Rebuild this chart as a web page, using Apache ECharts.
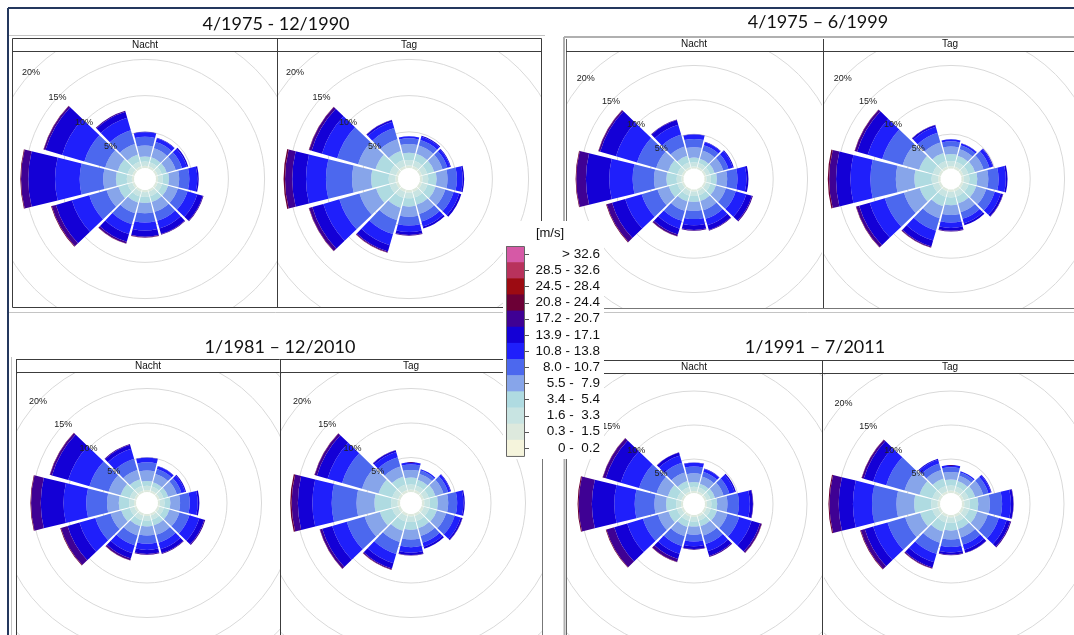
<!DOCTYPE html>
<html><head><meta charset="utf-8">
<script src="https://cdn.jsdelivr.net/npm/echarts@6/dist/echarts.min.js"></script>
<style>
html,body{margin:0;padding:0;background:#fff;}
#wrap{position:relative;width:1074px;height:635px;overflow:hidden;background:#fff;}
.abs{position:absolute;}
</style></head>
<body><div id="wrap"><div id="base" class="abs" style="left:0;top:0;width:1074px;height:635px"></div></div>
<script>
// ---------------- data ----------------
const directions = ['N','NNO','ONO','O','OSO','SSO','S','SSW','WSW','W','WNW','NNW'];
const periodTitles = ['4/1975 - 12/1990','4/1975 \u2013 6/1999','1/1981 \u2013 12/2010','1/1991 \u2013 7/2011'];
const panelHeaders = ['Nacht','Tag'];
const legendUnit = '[m/s]';
const speedLabels = ['> 32.6','28.5 - 32.6','24.5 - 28.4','20.8 - 24.4','17.2 - 20.7','13.9 - 17.1','10.8 - 13.8','8.0 - 10.7','5.5 -  7.9','3.4 -  5.4','1.6 -  3.3','0.3 -  1.5','0 -  0.2'];
const speedColors = ['#d659a6','#b8325c','#9c0b12','#6c0036','#3f0194','#1400d6','#1f1ffb','#4c68ee','#87a5ea','#afdbe1','#c8e4e2','#dde9dd','#f5f4dc'];
const ringValues = [5,10,15,20,25,30,35,40];
// cumulative frequency (%) per direction, classes 0.3-1.5 ... 20.8-24.4 m/s
const nacht_1975_1990 = [
 [0.3,0.9,1.6,3.1,4.3,4.95,5.0,5.0,5.0],
 [0.3,0.9,1.6,2.9,3.8,4.35,4.4,4.4,4.4],
 [0.3,0.9,1.6,2.9,3.8,4.5,4.7,4.7,4.7],
 [0.3,0.95,1.8,3.2,4.6,5.7,5.9,5.9,5.9],
 [0.3,0.95,1.8,3.2,4.6,6.0,6.8,6.9,6.9],
 [0.3,0.95,1.8,3.2,4.5,5.6,6.4,6.5,6.5],
 [0.3,0.95,1.8,3.2,4.5,5.6,6.45,6.55,6.6],
 [0.3,1.0,1.9,3.4,5.0,6.4,7.5,7.75,7.8],
 [0.3,1.0,2.3,4.0,6.5,9.0,11.3,11.9,12.0],
 [0.3,1.0,2.5,4.25,7.5,10.9,14.6,15.6,15.7],
 [0.3,1.0,2.4,4.2,7.2,10.4,12.8,13.05,13.1],
 [0.3,1.0,2.0,3.5,5.5,7.3,8.15,8.3,8.3]
];
const tag_1975_1990 = [
 [0.35,1.1,2.1,3.3,4.1,4.4,4.4,4.4,4.4],
 [0.35,1.1,2.1,3.3,4.1,4.55,4.7,4.7,4.7],
 [0.35,1.1,2.1,3.3,4.0,4.4,4.5,4.5,4.5],
 [0.35,1.15,2.3,3.8,5.1,5.9,6.1,6.1,6.1],
 [0.35,1.15,2.3,3.7,4.9,5.7,6.0,6.0,6.0],
 [0.35,1.15,2.2,3.5,4.6,5.3,5.6,5.6,5.6],
 [0.35,1.15,2.3,3.7,4.9,5.8,6.2,6.3,6.3],
 [0.35,1.2,2.6,4.4,6.4,8.0,8.9,9.05,9.1],
 [0.35,1.25,3.2,5.6,8.5,10.8,12.4,12.85,12.9],
 [0.35,1.3,3.7,6.35,9.95,12.7,14.6,15.6,15.8],
 [0.35,1.25,3.3,5.8,8.8,11.0,12.5,12.85,12.9],
 [0.35,1.2,2.5,4.2,5.8,6.7,6.95,7.0,7.0]
];
const nacht_1975_1999 = [
 [0.3,0.9,1.6,3.1,4.3,4.95,5.0,5.0,5.0],
 [0.3,0.9,1.55,2.8,3.6,4.05,4.1,4.1,4.1],
 [0.3,0.9,1.6,2.9,3.7,4.35,4.5,4.5,4.5],
 [0.3,0.95,1.8,3.3,4.8,6.1,6.4,6.4,6.4],
 [0.3,0.95,1.8,3.3,4.8,6.4,7.25,7.4,7.4],
 [0.3,0.95,1.8,3.2,4.5,5.5,6.2,6.3,6.3],
 [0.3,0.95,1.8,3.1,4.3,5.2,5.9,6.0,6.0],
 [0.3,1.0,1.9,3.3,4.8,6.0,6.9,7.15,7.2],
 [0.3,1.0,2.3,4.0,6.4,8.9,10.9,11.7,11.8],
 [0.3,1.0,2.5,4.3,7.4,10.8,14.2,15.6,15.7],
 [0.3,1.0,2.4,4.2,7.1,10.3,12.7,12.95,13.0],
 [0.3,1.0,2.0,3.4,5.2,6.7,7.4,7.5,7.5]
];
const tag_1975_1999 = [
 [0.35,1.1,2.1,3.2,3.95,4.25,4.25,4.25,4.25],
 [0.35,1.1,2.0,3.0,3.6,3.85,3.9,3.9,3.9],
 [0.35,1.1,2.1,3.4,4.3,4.8,4.9,4.9,4.9],
 [0.35,1.15,2.3,3.9,5.4,6.45,6.7,6.7,6.7],
 [0.35,1.15,2.3,3.8,5.1,6.0,6.35,6.4,6.4],
 [0.35,1.15,2.2,3.5,4.5,5.2,5.5,5.5,5.5],
 [0.35,1.15,2.3,3.7,4.8,5.6,6.0,6.1,6.1],
 [0.35,1.2,2.6,4.4,6.3,7.8,8.7,8.85,8.9],
 [0.35,1.25,3.2,5.6,8.5,10.8,12.4,12.85,12.9],
 [0.35,1.3,3.8,6.5,10.2,13.1,15.2,16.2,16.4],
 [0.35,1.25,3.3,5.8,8.9,11.1,12.7,13.05,13.1],
 [0.35,1.2,2.4,4.0,5.5,6.4,6.65,6.7,6.7]
];
const nacht_1981_2010 = [
 [0.3,0.9,1.6,3.1,4.3,4.95,5.0,5.0,5.0],
 [0.3,0.9,1.55,2.8,3.55,3.95,4.0,4.0,4.0],
 [0.3,0.9,1.6,2.9,3.6,4.15,4.3,4.3,4.3],
 [0.3,0.95,1.8,3.2,4.6,5.75,6.0,6.0,6.0],
 [0.3,0.95,1.8,3.3,4.8,6.3,7.05,7.2,7.2],
 [0.3,0.95,1.8,3.2,4.4,5.4,6.0,6.1,6.1],
 [0.3,0.95,1.8,3.1,4.3,5.2,5.8,5.9,5.9],
 [0.3,1.0,1.9,3.3,4.8,6.0,6.8,7.05,7.1],
 [0.3,1.0,2.3,3.9,6.2,8.6,10.4,11.4,11.5],
 [0.3,1.0,2.5,4.2,7.2,10.5,13.8,15.2,15.3],
 [0.3,1.0,2.4,4.2,7.1,10.3,12.75,13.05,13.1],
 [0.3,1.0,2.0,3.4,5.1,6.6,7.2,7.3,7.3]
];
const tag_1981_2010 = [
 [0.35,1.1,2.1,3.2,4.0,4.3,4.3,4.3,4.3],
 [0.35,1.05,1.9,2.8,3.3,3.5,3.5,3.5,3.5],
 [0.35,1.1,2.1,3.3,4.0,4.35,4.45,4.45,4.45],
 [0.35,1.15,2.3,3.8,5.1,6.0,6.2,6.2,6.2],
 [0.35,1.15,2.3,3.7,5.0,5.9,6.15,6.2,6.2],
 [0.35,1.15,2.2,3.4,4.4,5.0,5.3,5.3,5.3],
 [0.35,1.15,2.3,3.7,4.8,5.6,5.95,6.0,6.0],
 [0.35,1.2,2.6,4.3,6.1,7.5,8.3,8.45,8.5],
 [0.35,1.25,3.1,5.4,8.1,10.3,11.8,12.15,12.2],
 [0.35,1.3,3.7,6.3,9.9,12.7,14.8,15.7,15.9],
 [0.35,1.25,3.3,5.8,8.8,11.0,12.6,12.95,13.0],
 [0.35,1.2,2.4,3.9,5.3,6.1,6.35,6.4,6.4]
];
const nacht_1991_2011 = [
 [0.3,0.9,1.6,2.9,3.9,4.45,4.5,4.5,4.5],
 [0.3,0.9,1.5,2.6,3.3,3.75,3.8,3.8,3.8],
 [0.3,0.9,1.6,2.9,3.8,4.6,4.8,4.8,4.8],
 [0.3,0.95,1.8,3.3,5.0,6.6,7.05,7.1,7.1],
 [0.3,0.95,1.9,3.5,5.3,7.2,8.5,8.75,8.8],
 [0.3,0.95,1.8,3.2,4.5,5.6,6.35,6.5,6.5],
 [0.3,0.95,1.7,2.9,3.9,4.6,5.0,5.1,5.1],
 [0.3,1.0,1.9,3.3,4.8,6.0,6.8,7.25,7.3],
 [0.3,1.0,2.3,3.9,6.2,8.6,10.6,11.8,11.9],
 [0.3,1.0,2.5,4.2,7.1,10.1,13.4,15.35,15.5],
 [0.3,1.0,2.4,4.1,6.8,9.6,11.9,12.35,12.4],
 [0.3,1.0,1.9,3.2,4.7,5.8,6.25,6.3,6.3]
];
const tag_1991_2011 = [
 [0.35,1.1,2.0,3.1,3.8,4.1,4.1,4.1,4.1],
 [0.35,1.05,1.9,2.7,3.2,3.4,3.4,3.4,3.4],
 [0.35,1.1,2.1,3.3,4.1,4.5,4.6,4.6,4.6],
 [0.35,1.15,2.4,4.1,5.9,7.2,7.55,7.6,7.6],
 [0.35,1.15,2.4,4.0,5.7,6.9,7.45,7.6,7.6],
 [0.35,1.15,2.2,3.5,4.6,5.4,5.85,5.9,5.9],
 [0.35,1.15,2.3,3.6,4.7,5.5,5.85,5.9,5.9],
 [0.35,1.2,2.6,4.3,6.0,7.3,8.1,8.25,8.3],
 [0.35,1.25,3.1,5.4,8.1,10.3,11.6,12.2,12.3],
 [0.35,1.3,3.8,6.4,10.0,12.8,14.9,16.25,16.4],
 [0.35,1.25,3.2,5.5,8.3,10.3,11.75,12.05,12.1],
 [0.35,1.15,2.3,3.6,4.6,5.15,5.3,5.3,5.3]
];

// ---------------- layout ----------------
const roses = [
 {data:nacht_1975_1990, left:13, top:52, w:264, h:255, cx:132, cy:127, s:7.24, hole:11},
 {data:tag_1975_1990,   left:278,top:52, w:263, h:255, cx:131, cy:127, s:7.24, hole:11},
 {data:nacht_1975_1999, left:567,top:52, w:255, h:256, cx:127, cy:127, s:6.87, hole:10.5},
 {data:tag_1975_1999,   left:824,top:52, w:250, h:256, cx:127, cy:127, s:6.87, hole:10.5},
 {data:nacht_1981_2010, left:17, top:373,w:263, h:262, cx:130, cy:130, s:6.9, hole:11},
 {data:tag_1981_2010,   left:281,top:373,w:261, h:262, cx:130, cy:130, s:6.9, hole:11},
 {data:nacht_1991_2011, left:567,top:374,w:255, h:261, cx:127, cy:130, s:6.8, hole:11},
 {data:tag_1991_2011,   left:824,top:374,w:250, h:261, cx:127, cy:130, s:6.8, hole:11}
];
const nClasses = 9;
const classColor = k => speedColors[11 - k]; // class 0 = '0.3 - 1.5'
const FONT = "'Liberation Sans', Arial, sans-serif";
const wrap = document.getElementById('wrap');

function roseOption(r){
  const maxV = ringValues[ringValues.length-1];
  const rMax = r.hole + r.s*maxV;
  const r5 = r.hole + r.s*ringValues[0];
  const series = [];
  for (let k=0;k<nClasses;k++){
    series.push({
      type:'bar', coordinateSystem:'polar', polarIndex:0, stack:'rose',
      barCategoryGap:'8%', silent:true, z:2,
      itemStyle:{color:classColor(k), borderWidth:0},
      data:r.data.map(row => +(row[k] - (k>0 ? row[k-1] : 0)).toFixed(3))
    });
  }
  const hiddenAxis = {axisLine:{show:false}, axisTick:{show:false}, axisLabel:{show:false}, splitLine:{show:false}};
  return {
    animation:false,
    polar:[
      {center:[r.cx,r.cy], radius:[r.hole, rMax]},
      {center:[r.cx,r.cy], radius:[r5, rMax]},
      {center:[r.cx,r.cy], radius:[r5, rMax]}
    ],
    angleAxis:[
      Object.assign({polarIndex:0, type:'category', data:directions, startAngle:105}, hiddenAxis),
      Object.assign({polarIndex:1, type:'value', min:0, max:360, startAngle:90}, hiddenAxis),
      Object.assign({polarIndex:2, type:'value', min:0, max:360, startAngle:137}, hiddenAxis)
    ],
    radiusAxis:[
      Object.assign({polarIndex:0, type:'value', min:0, max:maxV}, hiddenAxis),
      {polarIndex:1, type:'value', min:ringValues[0], max:maxV, interval:5, z:0,
       axisLine:{show:false}, axisTick:{show:false}, axisLabel:{show:false},
       splitLine:{show:true, lineStyle:{color:'#d9d9d9', width:1}}},
      {polarIndex:2, type:'value', min:ringValues[0], max:maxV, interval:5, z:10,
       axisLine:{show:false}, axisTick:{show:false}, splitLine:{show:false},
       axisLabel:{show:true, showMinLabel:true, margin:0, align:'center', verticalAlign:'middle',
         fontSize:9, color:'#222', fontFamily:FONT,
         formatter: v => (v <= 20 ? v + '%' : '')}}
    ],
    series: series
  };
}

roses.forEach(r => {
  const d = document.createElement('div');
  d.className = 'abs';
  d.style.cssText = `left:${r.left}px;top:${r.top}px;width:${r.w}px;height:${r.h}px;`;
  wrap.appendChild(d);
  echarts.init(d, null, {renderer:'canvas'}).setOption(roseOption(r));
});

// ---------------- frames, titles, headers ----------------
function line(x1,y1,x2,y2,stroke,w){ return {type:'line', silent:true, shape:{x1,y1,x2,y2}, style:{stroke, lineWidth:w||1}}; }
function txt(x,y,t,font,align){ return {type:'text', silent:true, x, y, style:{text:t, font, fill:'#111', align:align||'center', verticalAlign:'middle', textAlign:align||'center', textVerticalAlign:'middle'}}; }
const dk = '#3c3c3c', lg = '#c4c4c4', navy = '#24385e';
const titleFont = "18px Lato, 'Open Sans', sans-serif";
const headFont = "10px " + FONT;
const g = [
  line(8,8,1074,8,navy,2), line(8,8,8,635,navy,2),
  line(9,35.5,545,35.5,lg,1),
  // top-left block
  {type:'rect', silent:true, shape:{x:12.5,y:38.5,width:529,height:269}, style:{fill:null, stroke:dk, lineWidth:1}},
  line(12,51.5,542,51.5,dk,1), line(277.5,38,277.5,308,dk,1),
  // top-right block
  line(564,37,1074,37,'#b0b0b0',2), line(564,37,564,309,'#b0b0b0',2), line(566.5,39,566.5,308,'#666',1),
  line(566,51.5,1074,51.5,dk,1), line(823.5,39,823.5,308,dk,1), line(566,308.5,1074,308.5,'#777',1),
  line(9,312.5,1074,312.5,lg,1),
  // bottom-left block
  line(11.5,357,11.5,635,lg,1), line(16.5,359,16.5,635,dk,1),
  line(16,359.5,543,359.5,dk,1), line(16,372.5,543,372.5,dk,1), line(280.5,359,280.5,635,dk,1), line(542.5,359,542.5,635,'#777',1),
  // bottom-right block
  line(564.5,358,564.5,635,'#b0b0b0',2), line(566.5,360,566.5,635,'#666',1),
  line(566,360.5,1074,360.5,dk,1), line(566,373.5,1074,373.5,dk,1), line(822.5,360,822.5,635,dk,1),
  // titles
  txt(276,24,periodTitles[0],titleFont), txt(818,22,periodTitles[1],titleFont),
  txt(280,347,periodTitles[2],titleFont), txt(815,347,periodTitles[3],titleFont),
  // headers
  txt(145,45,panelHeaders[0],headFont), txt(409,45,panelHeaders[1],headFont),
  txt(694,44.5,panelHeaders[0],headFont), txt(950,44.5,panelHeaders[1],headFont),
  txt(148,366,panelHeaders[0],headFont), txt(411,366,panelHeaders[1],headFont),
  txt(694,367,panelHeaders[0],headFont), txt(950,367,panelHeaders[1],headFont)
];
echarts.init(document.getElementById('base')).setOption({animation:false, backgroundColor:'#fff', graphic:{elements:g}});

// ---------------- legend ----------------
const lg_d = document.createElement('div');
lg_d.className = 'abs';
lg_d.style.cssText = 'left:503px;top:221px;width:101px;height:238px;background:#fff;';
wrap.appendChild(lg_d);
const bh = 16.15, bx = 3, by = 25, bw = 18;
const le = [txt(47,12,legendUnit,"13px " + FONT)];
speedColors.forEach((c,i) => {
  le.push({type:'rect', silent:true, shape:{x:bx, y:by + i*bh, width:bw, height:bh+0.6}, style:{fill:c}});
  le.push(line(bx+bw, Math.round(by + (i+0.5)*bh)+0.5, bx+bw+5, Math.round(by + (i+0.5)*bh)+0.5, '#555', 1));
  le.push(txt(97, by + (i+0.5)*bh, speedLabels[i], "13.5px " + FONT, 'right'));
});
le.push({type:'rect', silent:true, shape:{x:bx+0.5, y:by+0.5, width:bw, height:bh*speedColors.length}, style:{fill:null, stroke:'#666', lineWidth:1}});
echarts.init(lg_d).setOption({animation:false, graphic:{elements:le}});
</script>
</body></html>
